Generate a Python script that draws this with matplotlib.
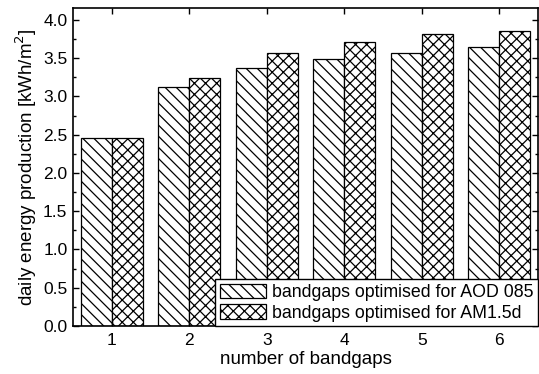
import numpy as np
import matplotlib
matplotlib.use("Agg")
import matplotlib.pyplot as plt
from matplotlib.ticker import MultipleLocator, FormatStrFormatter

plt.rcParams['font.family'] = ['Liberation Sans', 'DejaVu Sans']
plt.rcParams['hatch.linewidth'] = 0.9

categories = [1, 2, 3, 4, 5, 6]
aod085 = [2.46, 3.12, 3.37, 3.49, 3.57, 3.64]
am15d = [2.45, 3.24, 3.565, 3.71, 3.81, 3.85]
labels = ["bandgaps optimised for AOD 085", "bandgaps optimised for AM1.5d"]

fig = plt.figure(figsize=(5.39, 3.74), dpi=100)
ax = fig.add_axes([0.1354, 0.1283, 0.998 - 0.1354, 0.9786 - 0.1283])

x = np.array(categories, dtype=float)
w = 0.4
ax.bar(x - w / 2, aod085, width=w, facecolor='white', edgecolor='black',
       linewidth=0.9, hatch='\\\\\\', label=labels[0])
ax.bar(x + w / 2, am15d, width=w, facecolor='white', edgecolor='black',
       linewidth=0.9, hatch='xxx', label=labels[1])

ax.set_xlim(0.5, 6.5)
ax.set_ylim(0, 4.155)
ax.set_xticks(categories)
ax.yaxis.set_major_locator(MultipleLocator(0.5))
ax.yaxis.set_minor_locator(MultipleLocator(0.25))
ax.yaxis.set_major_formatter(FormatStrFormatter('%.1f'))
ax.tick_params(axis='both', which='both', direction='in', top=True, right=True,
               labelsize=12.5)
ax.tick_params(which='major', length=4, width=1)
ax.tick_params(which='minor', length=2.5, width=1)
ax.tick_params(axis='x', pad=5)
ax.tick_params(axis='y', pad=4)
for s in ax.spines.values():
    s.set_linewidth(1.2)

ax.set_xlabel("number of bandgaps", fontsize=13.5, labelpad=2)
ax.set_ylabel("daily energy production [kWh/m$^2$]", fontsize=13.5, labelpad=3)

leg = ax.legend(loc='lower right', bbox_to_anchor=(1, 0), borderaxespad=0,
                fontsize=12.8, fancybox=False, framealpha=1, edgecolor='black',
                handlelength=2.6, handleheight=0.85, handletextpad=0.35,
                labelspacing=0.2, borderpad=0.25)
leg.get_frame().set_linewidth(1.0)

fig.savefig("out.png", dpi=100)
